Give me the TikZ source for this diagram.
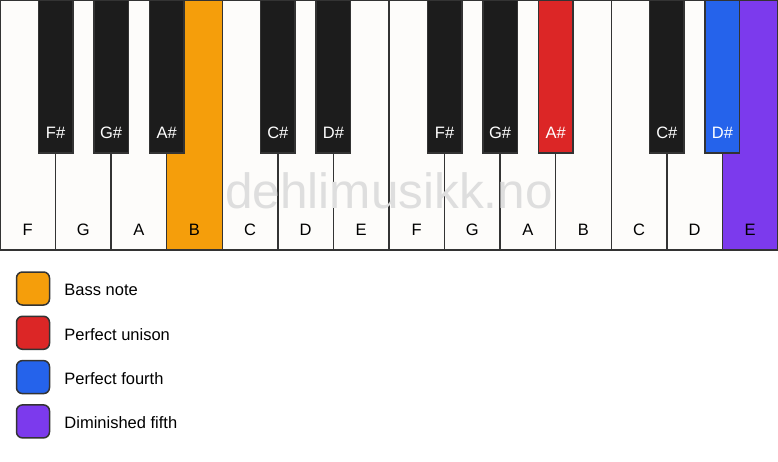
\documentclass[tikz,border=0pt]{standalone}
\usepackage{fontspec}
\setmainfont{Liberation Sans}
\usepackage{tikz}
\usetikzlibrary{positioning}
\usepackage{xcolor}
\definecolor{KeyWhite}{RGB}{253,252,250}
\definecolor{KeyBlack}{RGB}{28,28,28}
\definecolor{Edge}{RGB}{51,51,51}
\definecolor{Mark}{RGB}{222,222,222}
\definecolor{Bass}{RGB}{245,158,11}
\definecolor{Unison}{RGB}{220,38,38}
\definecolor{Fourth}{RGB}{37,99,235}
\definecolor{Fifth}{RGB}{124,58,237}
\tikzset{
  wkey/.style={draw=Edge, line width=1.5pt, fill=KeyWhite, minimum width=55.57pt, minimum height=250pt, anchor=north west, inner sep=0pt, outer sep=0pt},
  bkey/.style={draw=Edge, line width=1.5pt, fill=KeyBlack, minimum width=34.5pt, minimum height=153pt, anchor=north, inner sep=0pt, outer sep=0pt},
  keylabel/.style={font=\fontsize{16.5}{19}\selectfont, inner sep=0pt},
  swatch/.style={draw=Edge, line width=1.5pt, rounded corners=6pt, minimum size=33pt, inner sep=0pt},
}

\begin{document}
\begin{tikzpicture}[x=1pt,y=1pt]
\useasboundingbox (0,0) rectangle (778,-461);
\fill[white] (0,0) rectangle (778,-461);
% white keys
\foreach \n/\c [count=\i from 0] in {F/KeyWhite,G/KeyWhite,A/KeyWhite,B/Bass,C/KeyWhite,D/KeyWhite,E/KeyWhite,F/KeyWhite,G/KeyWhite,A/KeyWhite,B/KeyWhite,C/KeyWhite,D/KeyWhite,E/Fifth}{
  \node[wkey, fill=\c] (w\i) at (\i*55.57,0) {};
  \node[keylabel] (wl\i) at ([yshift=20pt]w\i.south) {\n};
}
\node[font=\fontsize{49.5}{50}\selectfont, text=Mark, anchor=base] (mark) at (389,-208) {dehlimusikk.no};
% black keys
\foreach \k/\n/\c in {1/F/KeyBlack,2/G/KeyBlack,3/A/KeyBlack,5/C/KeyBlack,6/D/KeyBlack,8/F/KeyBlack,9/G/KeyBlack,10/A/Unison,12/C/KeyBlack,13/D/Fourth}{
  \node[bkey, fill=\c] (b\k) at (w\k.north west) {};
  \node[keylabel, text=white] (bl\k) at ([yshift=20pt]b\k.south) {\n\#};
}
% legend
\foreach \c/\t [count=\j from 0] in {Bass/Bass note,Unison/Perfect unison,Fourth/Perfect fourth,Fifth/Diminished fifth}{
  \node[swatch, fill=\c] (s\j) at (33,-288.5-44.3*\j) {};
  \node[keylabel, right=14pt of s\j, yshift=-1.5pt] (t\j) {\t};
}
\end{tikzpicture}
\end{document}
